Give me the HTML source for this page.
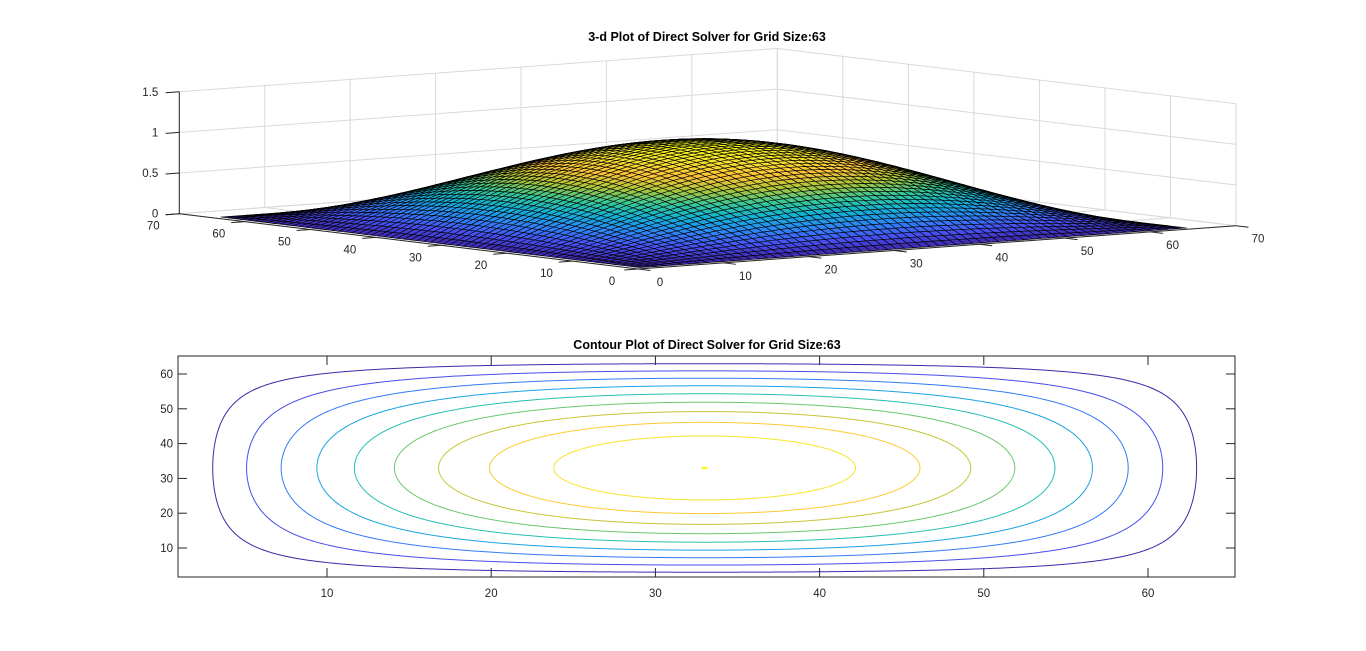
<!DOCTYPE html>
<html><head><meta charset="utf-8"><style>
html,body{margin:0;padding:0;background:#fff;}
svg{display:block;font-family:"Liberation Sans",Arial,sans-serif;}
</style></head><body>
<svg id="fig" width="1366" height="651" viewBox="0 0 1366 651" xmlns="http://www.w3.org/2000/svg">
<rect width="1366" height="651" fill="#fff"/>
<g id="topplot"></g>
<g id="botplot"></g>
<text x="707" y="41" text-anchor="middle" font-size="12.5" font-weight="bold" fill="#000">3-d Plot of Direct Solver for Grid Size:63</text>
<text x="707" y="349" text-anchor="middle" font-size="12.5" font-weight="bold" fill="#000">Contour Plot of Direct Solver for Grid Size:63</text>
</svg>
<script>
// ---- data ----
const gridN = 65;            // grid points per side (63 interior + 2 boundary)
const peakValue = 1.0;       // solution peak
const contourLevels = [0.1,0.2,0.3,0.4,0.5,0.6,0.7,0.8,0.9,0.99998];
const xTicks3d = [0,10,20,30,40,50,60,70];
const yTicks3d = [0,10,20,30,40,50,60,70];
const zTicks3d = [0,0.5,1,1.5];
const zTickLabels = ["0","0.5","1","1.5"];
const xTicks2d = [10,20,30,40,50,60];
const yTicks2d = [10,20,30,40,50,60];

const NS="http://www.w3.org/2000/svg";
function mk(tag,attrs,parent){const e=document.createElementNS(NS,tag);for(const k in attrs)e.setAttribute(k,attrs[k]);parent.appendChild(e);return e;}
const PAR=[[0.2422,0.1504,0.6603],[0.2810,0.3228,0.9579],[0.1786,0.5289,0.9682],[0.0689,0.6948,0.8394],[0.2161,0.7843,0.5923],[0.6720,0.7793,0.2227],[0.9970,0.7659,0.2199],[0.9598,0.8870,0.1786],[0.9769,0.9839,0.0805]];
function parula(t){t=Math.max(0,Math.min(1,t));const s=t*8,i=Math.min(7,Math.floor(s)),f=s-i;const c=PAR[i].map((v,k)=>Math.round(255*(v+(PAR[i+1][k]-v)*f)));return `rgb(${c[0]},${c[1]},${c[2]})`;}
function u(x,y){return peakValue*Math.sin(Math.PI*(x-1)/(gridN-1))*Math.sin(Math.PI*(y-1)/(gridN-1));}

// ---- 3D plot ----
const topG=document.getElementById('topplot');
const F=[638,269],R=[1236,225.7],L=[179.3,213.7];
const ex=[(R[0]-F[0])/70,(R[1]-F[1])/70], ey=[(L[0]-F[0])/70,(L[1]-F[1])/70], ez=-81.3;
function pr(x,y,z){return [F[0]+x*ex[0]+y*ey[0], F[1]+x*ex[1]+y*ey[1]+z*ez];}
function line3(a,b,stroke,w,name){const p=pr(a[0],a[1],a[2]),q=pr(b[0],b[1],b[2]);const l=mk('line',{x1:p[0],y1:p[1],x2:q[0],y2:q[1],stroke:stroke,'stroke-width':w},topG);
  
  
  return l;}
const gc="#d9d9d9";
xTicks3d.forEach(x=>{line3([x,70,0],[x,70,1.5],gc,1,'grid-line');line3([x,0,0],[x,70,0],gc,1,'grid-line');});
yTicks3d.forEach(y=>{line3([70,y,0],[70,y,1.5],gc,1,'grid-line');line3([0,y,0],[70,y,0],gc,1,'grid-line');});
zTicks3d.forEach(z=>{line3([0,70,z],[70,70,z],gc,1,'grid-line');line3([70,70,z],[70,0,z],gc,1,'grid-line');});
const quads=[];
for(let i=1;i<gridN;i++)for(let j=1;j<gridN;j++)quads.push([i,j]);
quads.sort((a,b)=>(b[0]+b[1])-(a[0]+a[1]));
const sg=mk('g',{stroke:'#000','stroke-width':0.6,'stroke-linejoin':'round'},topG);


quads.forEach(([i,j])=>{
  const c=[[i,j],[i+1,j],[i+1,j+1],[i,j+1]];
  let zs=0;const pts=c.map(([x,y])=>{const z=u(x,y);zs+=z;const p=pr(x,y,z);return p[0].toFixed(1)+','+p[1].toFixed(1);});
  const pg=mk('polygon',{points:pts.join(' '),fill:parula(zs/4/peakValue)},sg);
  
  
});
line3([0,70,0],[0,70,1.5],'#262626',1,'z-axis-line');
line3([0,0,0],[0,70,0],'#262626',1,'y-axis-line');
line3([0,0,0],[70,0,0],'#262626',1,'x-axis-line');
const tl=1.6;
zTicks3d.forEach((z,k)=>{const p=pr(0,70,z);line3([0,70,z],[-tl,70,z],'#262626',1,'z-tick');
  const t=mk('text',{x:p[0]-21,y:p[1]+4,'text-anchor':'end','font-size':11.5,fill:'#262626'},topG);t.textContent=zTickLabels[k];
  
  });
xTicks3d.forEach(x=>{line3([x,0,0],[x,-1.9,0],'#262626',1,'x-tick');const p=pr(x,0,0);
  const t=mk('text',{x:p[0]+22,y:p[1]+17,'text-anchor':'middle','font-size':11.5,fill:'#262626'},topG);t.textContent=x;
  
  });
yTicks3d.forEach(y=>{line3([0,y,0],[-tl,y,0],'#262626',1,'y-tick');const p=pr(0,y,0);
  const t=mk('text',{x:p[0]-26,y:p[1]+16,'text-anchor':'middle','font-size':11.5,fill:'#262626'},topG);t.textContent=y;
  
  });

// ---- contour plot ----
const botG=document.getElementById('botplot');
const bx0=178,bx1=1235,by0=356,by1=577;
function sx(x){return 327+(x-10)*16.42;}
function sy(y){return 548-(y-10)*3.48;}
mk('rect',{x:bx0,y:by0,width:bx1-bx0,height:by1-by0,fill:'#fff',stroke:'#262626','stroke-width':1,},botG);
const cx=(gridN+1)/2, cy=(gridN+1)/2, half=(gridN-1)/2;
const lvMin=contourLevels[0], lvMax=contourLevels[contourLevels.length-1];
contourLevels.forEach(lv=>{
  if(u(cx,cy)<lv) return;
  const pts=[];
  for(let a=0;a<1440;a++){const th=a/1440*2*Math.PI,dx=Math.cos(th),dy=Math.sin(th);
    let lo=0,hi=Math.min(Math.abs(dx)>1e-9?half/Math.abs(dx):1e9, Math.abs(dy)>1e-9?half/Math.abs(dy):1e9);
    for(let k=0;k<45;k++){const m=(lo+hi)/2;if(u(cx+m*dx,cy+m*dy)>lv)lo=m;else hi=m;}
    pts.push(sx(cx+lo*dx).toFixed(2)+','+sy(cy+lo*dy).toFixed(2));}
  const pg=mk('polygon',{points:pts.join(' '),fill:'none',stroke:parula((lv-lvMin)/(lvMax-lvMin)),'stroke-width':lv>0.999?1.6:1},botG);
  
  
});
xTicks2d.forEach(x=>{const X=sx(x);
  mk('line',{x1:X,y1:by1,x2:X,y2:by1-9,stroke:'#262626',},botG);
  mk('line',{x1:X,y1:by0,x2:X,y2:by0+9,stroke:'#262626',},botG);
  const t=mk('text',{x:X,y:597,'text-anchor':'middle','font-size':11.5,fill:'#262626'},botG);t.textContent=x;
  
  });
yTicks2d.forEach(y=>{const Y=sy(y);
  mk('line',{x1:bx0,y1:Y,x2:bx0+9,y2:Y,stroke:'#262626',},botG);
  mk('line',{x1:bx1,y1:Y,x2:bx1-9,y2:Y,stroke:'#262626',},botG);
  const t=mk('text',{x:173,y:Y+4,'text-anchor':'end','font-size':11.5,fill:'#262626'},botG);t.textContent=y;
  
  });
</script>
</body></html>
